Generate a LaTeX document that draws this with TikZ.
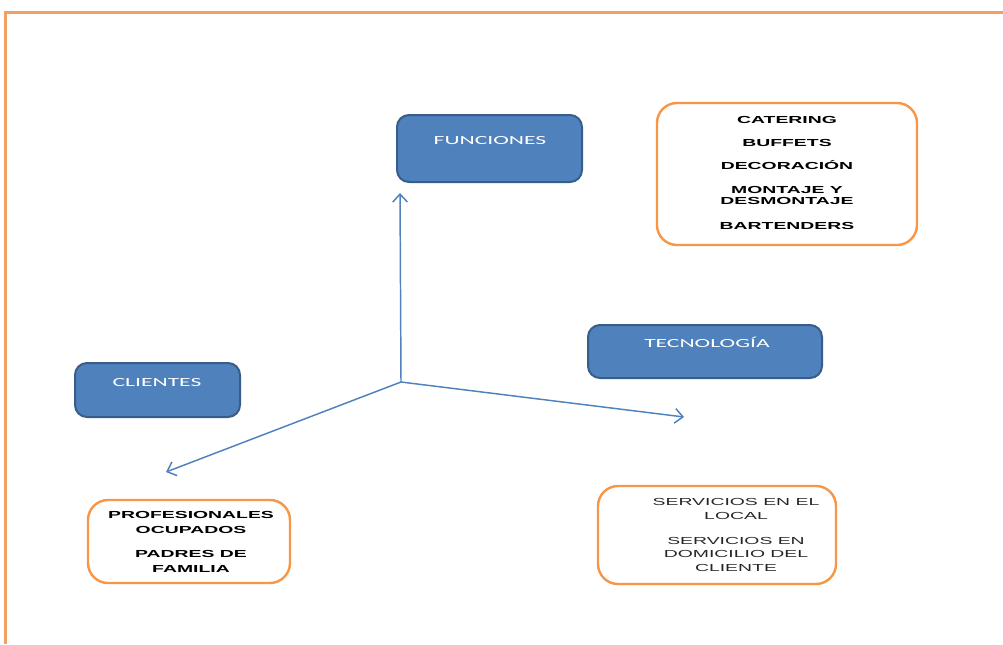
\documentclass[tikz,border=0pt]{standalone}
\usepackage{fontspec}
\setmainfont{Liberation Sans}
\newfontfamily\calibrifont{Carlito}
\usetikzlibrary{arrows.meta}
\definecolor{boxblue}{HTML}{4F81BD}
\definecolor{boxedge}{HTML}{385D8A}
\definecolor{listorange}{HTML}{F79646}
\definecolor{framecol}{HTML}{F4A062}

\tikzset{
  bluebox/.style={draw=boxedge, fill=boxblue, line width=1.5pt, rounded corners=9pt},
  listbox/.style={draw=listorange, line width=1.8pt, rounded corners=15pt},
  axis/.style={draw=boxblue, line width=1.1pt, -{Straight Barb[length=6pt,width=11pt]}},
  boxtext/.style={transform shape, xscale=1.9, inner sep=0pt, text=white,
    font=\calibrifont\fontsize{9.3}{11}\selectfont, text height=6pt, text depth=0pt},
  listtext/.style={transform shape, xscale=1.9, inner sep=0pt, align=center}
}

\begin{document}
\begin{tikzpicture}[x=0.75pt, y=-0.75pt, thick]
    \useasboundingbox (0,0) rectangle (1003,644);

    % Frame
    \coordinate (frameTL) at (5,12);
    \draw[framecol, line width=2.25pt] (1003,12) -- (frameTL) -- (5,644);

    % Blue boxes
    \node[bluebox, minimum width=138.75pt, minimum height=50.25pt] (funciones) at (489.5,148.5) {};
    \node[boxtext] (funcionesText) at (490,140) {FUNCIONES};

    \node[bluebox, minimum width=175.5pt, minimum height=39.75pt] (tecnologia) at (705,351.5) {};
    \node[boxtext] (tecnologiaText) at (707,343) {TECNOLOGÍA};

    \node[bluebox, minimum width=123.75pt, minimum height=40.5pt] (clientes) at (157.5,390) {};
    \node[boxtext] (clientesText) at (157,382) {CLIENTES};

    % Orange lists
    \node[listbox, minimum width=195pt, minimum height=106.5pt] (funcList) at (787,174) {};
    \node[listtext, font=\bfseries\fontsize{7.65}{8.25}\selectfont] (funcItems) at (787,173.3)
      {CATERING\\[9pt] BUFFETS\\[9pt] DECORACIÓN\\[9.75pt] MONTAJE Y\\ DESMONTAJE\\[10.75pt] BARTENDERS};

    \node[listbox, minimum width=151.5pt, minimum height=62.25pt] (clientList) at (189,541.5) {};
    \node[listtext, font=\bfseries\fontsize{7.65}{11}\selectfont] (clientItems) at (191,541.9)
      {PROFESIONALES\\ OCUPADOS\\[7pt] PADRES DE\\ FAMILIA};

    \node[listbox, minimum width=178.5pt, minimum height=73.5pt] (tecList) at (717,535) {};
    \node[listtext, text=black!85, font=\fontsize{7.65}{10.3}\selectfont] (tecItems) at (736,535)
      {SERVICIOS EN EL\\ LOCAL\\[8.45pt] SERVICIOS EN\\ DOMICILIO DEL\\ CLIENTE};

    % Axes
    \coordinate (origin) at (401,382);
    \coordinate (upEnd) at (400,193);
    \coordinate (rightEnd) at (684,417);
    \coordinate (leftEnd) at (166,472);
    \draw[axis] (origin) -- (upEnd);
    \draw[axis] (origin) -- (rightEnd);
    \draw[axis] (origin) -- (leftEnd);
\end{tikzpicture}
\end{document}
